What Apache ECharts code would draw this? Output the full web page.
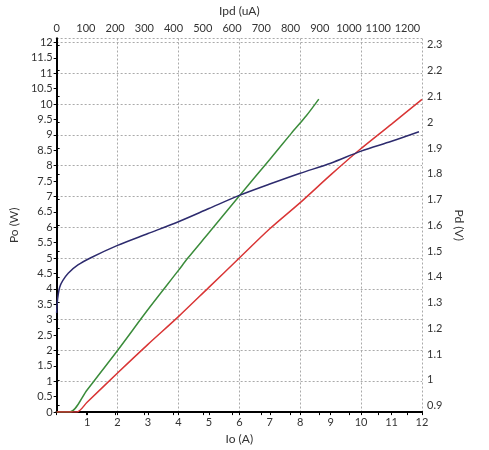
<!DOCTYPE html>
<html>
<head>
<meta charset="utf-8">
<script src="https://cdn.jsdelivr.net/npm/echarts@6/dist/echarts.min.js"></script>
<style>html,body{margin:0;padding:0;background:#fff;}#c{width:489px;height:450px;}</style>
</head>
<body>
<div id="c"></div>
<script>
// Green: Po (W) vs Io (A)
const greenData = [[0,0],[0.43,0],[1,0.72],[2,2.0],[3,3.33],[4,4.6],[4.31,5.0],[5,5.82],[5.95,6.96],[7,8.2],[7.7,9.04],[8.2,9.62],[8.61,10.16]];
// Red: Po (W) vs Io (A)
const redData = [[0,0],[0.65,0],[1,0.32],[2,1.27],[3,2.2],[4,3.1],[5,4.05],[6,5.0],[7,5.95],[8,6.8],[9,7.7],[9.93,8.5],[11,9.35],[12,10.15]];
// Navy: right axis (V) vs Io (A)
const navyData = [[0,1.26],[0.02,1.3],[0.05,1.33],[0.1,1.36],[0.2,1.385],[0.38,1.414],[0.7,1.446],[1.14,1.475],[2,1.522],[3,1.568],[4,1.614],[5,1.665],[6,1.716],[7,1.76],[8,1.802],[9,1.841],[10,1.888],[11,1.926],[11.9,1.963]];
const leftTicks = [0,0.5,1,1.5,2,2.5,3,3.5,4,4.5,5,5.5,6,6.5,7,7.5,8,8.5,9,9.5,10,10.5,11,11.5,12];
const rightTicks = [0.9,1.0,1.1,1.2,1.3,1.4,1.5,1.6,1.7,1.8,1.9,2.0,2.1,2.2,2.3];

const font = 'Lato';
const lab = {color:'#333', fontSize:11, fontFamily:font};
const axLine = {show:true, lineStyle:{color:'#000', width:2}};
const grid = {type:[2,2], color:'#aaa', width:1};
const chart = echarts.init(document.getElementById('c'));
chart.setOption({
  animation:false,
  grid:{left:55, right:67, top:38.5, bottom:32.5},
  xAxis:[
    {type:'value', position:'bottom', min:0, max:12, interval:1, name:'Io (A)', nameLocation:'middle', nameGap:18,
     nameTextStyle:{color:'#333', fontSize:12, fontFamily:font},
     axisLine:axLine, axisTick:{show:true, length:3, lineStyle:{color:'#000'}},
     axisLabel:Object.assign({margin:5, showMinLabel:false, formatter:v=>String(v)}, lab), splitLine:{show:false}},
    {type:'value', position:'top', min:0, max:1250, interval:100, name:'Ipd (uA)', nameLocation:'middle', nameGap:19,
     nameTextStyle:{color:'#333', fontSize:12, fontFamily:font},
     axisLine:axLine, axisTick:{show:true, length:3, inside:true, lineStyle:{color:'#000'}},
     axisLabel:Object.assign({margin:5, showMaxLabel:false, formatter:v=>String(v)}, lab), splitLine:{show:false}},
    {type:'value', position:'bottom', min:0, max:12, interval:2, show:true,
     axisLine:{show:false}, axisTick:{show:false}, axisLabel:{show:false},
     splitLine:{show:true, lineStyle:grid}}
  ],
  yAxis:[
    {type:'value', position:'left', min:0, max:12.128, name:'Po (W)', nameLocation:'middle', nameGap:27,
     nameTextStyle:{color:'#333', fontSize:12, fontFamily:font},
     axisLine:axLine, axisTick:{show:true, length:3, customValues:leftTicks, lineStyle:{color:'#000'}},
     axisLabel:Object.assign({margin:4, customValues:leftTicks, formatter:v=>String(v)}, lab), splitLine:{show:false}},
    {type:'value', position:'right', min:0.8751, max:2.3249, name:'Pd (V)', nameLocation:'middle', nameGap:24, nameRotate:-90,
     nameTextStyle:{color:'#333', fontSize:12, fontFamily:font},
     axisLine:axLine, axisTick:{show:true, length:3, customValues:rightTicks, lineStyle:{color:'#000'}},
     axisLabel:Object.assign({margin:5, customValues:rightTicks, formatter:v=>String(Math.round(v*10)/10)}, lab), splitLine:{show:false}},
    {type:'value', position:'left', min:0, max:12.128, interval:1, show:true,
     axisLine:{show:false}, axisTick:{show:false}, axisLabel:{show:false},
     splitLine:{show:true, lineStyle:grid}}
  ],
  series:[
    {type:'line', data:greenData, xAxisIndex:0, yAxisIndex:0, showSymbol:false, smooth:0.3, lineStyle:{color:'#3b8c3b', width:1.5}},
    {type:'line', data:redData, xAxisIndex:0, yAxisIndex:0, showSymbol:false, smooth:0.3, lineStyle:{color:'#d93535', width:1.5}},
    {type:'line', data:navyData, xAxisIndex:0, yAxisIndex:1, showSymbol:false, smooth:0.3, lineStyle:{color:'#2d2b6e', width:1.5}}
  ]
});
</script>
</body>
</html>
